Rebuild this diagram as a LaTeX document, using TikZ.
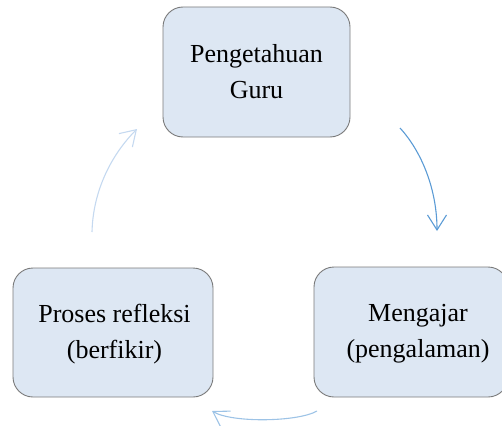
\documentclass[tikz,border=0pt]{standalone}
\usepackage{fontspec}
\setmainfont{Liberation Serif}
\usetikzlibrary{arrows.meta}
\definecolor{boxfill}{HTML}{DDE7F3}
\definecolor{boxline}{HTML}{7A7A7A}
\definecolor{arrA}{HTML}{5B9BD5}
\definecolor{arrB}{HTML}{9DC3E6}
\definecolor{arrC}{HTML}{C5D9F0}
\tikzset{
  box/.style={draw=boxline, line width=0.9pt, fill=boxfill, rounded corners=20pt, inner sep=0pt},
  lbl/.style={align=center, font=\fontsize{26}{36}\selectfont, inner sep=0pt},
  cyc/.style={line width=1.1pt, -{Straight Barb[length=15pt,width=19pt,line width=1.1pt]}}
}
\begin{document}
\begin{tikzpicture}[x=1pt,y=-1pt]
\useasboundingbox (0,0) rectangle (502,425);
% boxes
\node[box, minimum width=187pt, minimum height=130pt] (top) at (256.5,72) {};
\node[box, minimum width=200pt, minimum height=129pt] (left) at (113,332.5) {};
\node[box, minimum width=194pt, minimum height=130pt] (right) at (411,332) {};
% labels
\node[lbl] (topt) at (256.5,72) {Pengetahuan\\Guru};
\node[lbl] (leftt) at (114.5,334) {Proses refleksi\\(berfikir)};
\node[lbl] (rightt) at (418,334) {Mengajar\\(pengalaman)};
% arrow end points
\coordinate (a1s) at (400,128);
\coordinate (a1e) at (437,231);
\coordinate (a2s) at (317,411);
\coordinate (a2e) at (212,411);
\coordinate (a3s) at (92,232);
\coordinate (a3e) at (137,129);
% arrows
\draw[cyc, arrA] (a1s) .. controls (422,152) and (437,190) .. (a1e);
\draw[cyc, arrB] (a2s) .. controls (298,422) and (232,423) .. (a2e);
\draw[cyc, arrC] (a3s) .. controls (93,190) and (112,154) .. (a3e);
\end{tikzpicture}
\end{document}
